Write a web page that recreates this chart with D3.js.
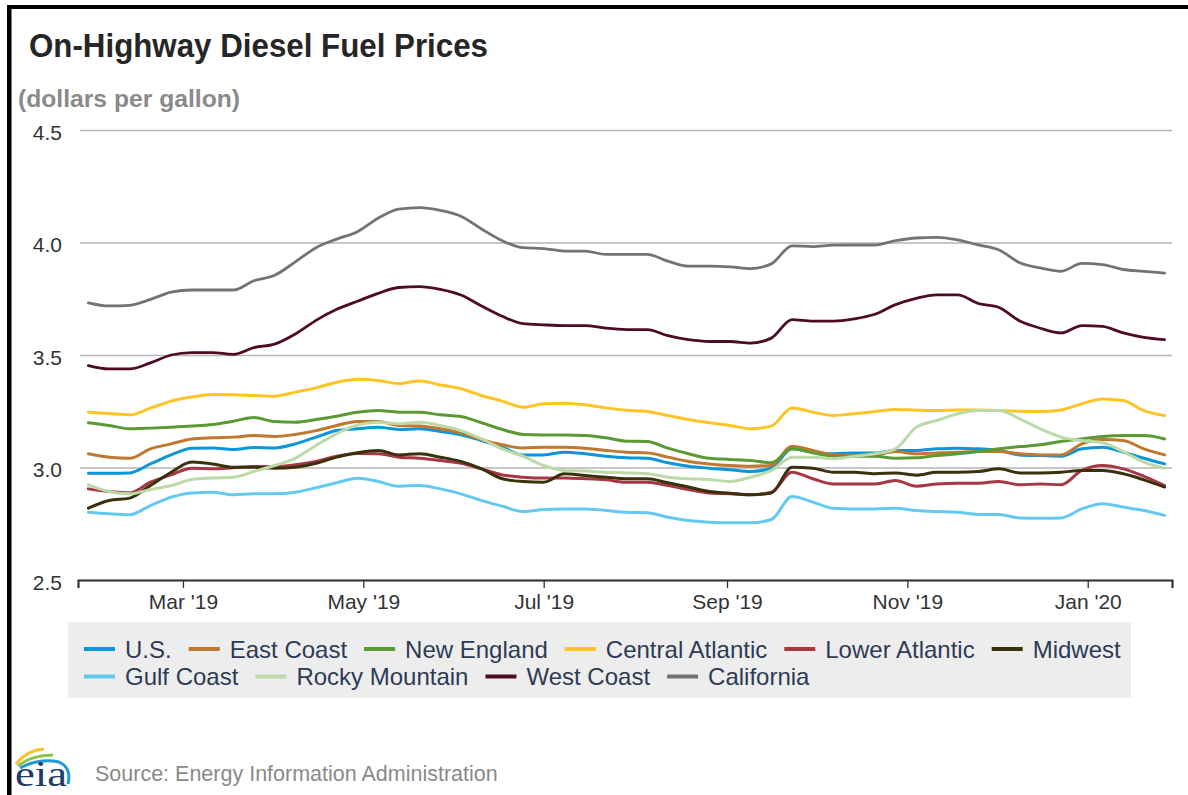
<!DOCTYPE html>
<html>
<head>
<meta charset="utf-8">
<script src="https://cdnjs.cloudflare.com/ajax/libs/d3/7.8.5/d3.min.js"></script>
<style>
  body { margin: 0; background: #fff; }
  svg { display: block; font-family: "Liberation Sans", Arial, sans-serif; }
</style>
</head>
<body>
<div id="chart"></div>
<script>
// weekly dates (Mondays)
var weeks = ["2019-01-28","2019-02-04","2019-02-11","2019-02-18","2019-02-25","2019-03-04","2019-03-11","2019-03-18","2019-03-25",
  "2019-04-01","2019-04-08","2019-04-15","2019-04-22","2019-04-29","2019-05-06","2019-05-13","2019-05-20","2019-05-27",
  "2019-06-03","2019-06-10","2019-06-17","2019-06-24","2019-07-01","2019-07-08","2019-07-15","2019-07-22","2019-07-29",
  "2019-08-05","2019-08-12","2019-08-19","2019-08-26","2019-09-02","2019-09-09","2019-09-16","2019-09-23","2019-09-30",
  "2019-10-07","2019-10-14","2019-10-21","2019-10-28","2019-11-04","2019-11-11","2019-11-18","2019-11-25","2019-12-02",
  "2019-12-09","2019-12-16","2019-12-23","2019-12-30","2020-01-06","2020-01-13","2020-01-20","2020-01-27"];

var usPrice = [2.975,2.975,2.976,3.016,3.056,3.086,3.087,3.080,3.089,3.087,3.105,3.135,3.164,3.172,3.179,3.169,3.172,3.160,
  3.145,3.120,3.090,3.056,3.056,3.068,3.061,3.050,3.043,3.041,3.021,3.006,2.997,2.990,2.982,2.997,3.083,3.068,
  3.061,3.065,3.065,3.076,3.076,3.083,3.086,3.083,3.076,3.056,3.053,3.050,3.083,3.090,3.068,3.041,3.016];
var eastCoast = [3.061,3.046,3.041,3.083,3.105,3.127,3.132,3.135,3.142,3.138,3.147,3.164,3.187,3.205,3.204,3.187,3.184,3.172,
  3.154,3.124,3.101,3.087,3.090,3.090,3.086,3.076,3.068,3.065,3.046,3.027,3.016,3.009,3.006,3.009,3.095,3.076,
  3.056,3.053,3.056,3.071,3.061,3.065,3.068,3.071,3.071,3.061,3.056,3.056,3.105,3.124,3.120,3.083,3.056];
var newEngland = [3.199,3.187,3.172,3.175,3.179,3.184,3.191,3.206,3.222,3.204,3.201,3.213,3.228,3.246,3.253,3.246,3.246,3.234,
  3.227,3.199,3.169,3.147,3.145,3.145,3.142,3.132,3.117,3.116,3.086,3.061,3.041,3.036,3.031,3.021,3.083,3.065,
  3.050,3.050,3.050,3.041,3.043,3.053,3.061,3.071,3.083,3.093,3.101,3.116,3.127,3.138,3.142,3.142,3.127];
var centralAtlantic = [3.246,3.240,3.234,3.264,3.295,3.313,3.324,3.323,3.320,3.317,3.335,3.354,3.379,3.392,3.387,3.373,3.384,3.367,
  3.350,3.320,3.295,3.268,3.283,3.286,3.279,3.265,3.254,3.249,3.231,3.213,3.199,3.187,3.172,3.184,3.264,3.246,
  3.231,3.239,3.249,3.258,3.255,3.253,3.256,3.256,3.253,3.250,3.249,3.256,3.283,3.305,3.298,3.253,3.231];
var lowerAtlantic = [2.905,2.893,2.887,2.935,2.967,2.997,2.994,2.999,3.004,3.004,3.012,3.027,3.050,3.062,3.061,3.046,3.041,3.031,
  3.019,2.994,2.967,2.957,2.953,2.953,2.950,2.945,2.935,2.935,2.920,2.902,2.887,2.883,2.879,2.890,2.979,2.950,
  2.927,2.927,2.927,2.942,2.917,2.927,2.930,2.930,2.938,2.923,2.927,2.923,2.987,3.009,2.994,2.961,2.920];
var midwest = [2.819,2.853,2.864,2.920,2.979,3.024,3.016,3.001,3.001,2.997,3.001,3.019,3.046,3.066,3.076,3.056,3.061,3.046,
  3.027,2.994,2.950,2.938,2.935,2.972,2.964,2.957,2.950,2.950,2.932,2.913,2.893,2.886,2.879,2.887,3.001,2.997,
  2.979,2.979,2.972,2.976,2.966,2.979,2.979,2.982,2.994,2.976,2.976,2.979,2.987,2.987,2.972,2.945,2.913];
var gulfCoast = [2.801,2.794,2.790,2.831,2.868,2.887,2.890,2.879,2.883,2.883,2.890,2.910,2.932,2.952,2.938,2.917,2.920,2.905,
  2.883,2.853,2.828,2.804,2.813,2.816,2.816,2.809,2.801,2.799,2.779,2.764,2.757,2.754,2.754,2.769,2.871,2.846,
  2.819,2.816,2.816,2.819,2.809,2.804,2.801,2.791,2.791,2.776,2.775,2.776,2.816,2.839,2.824,2.809,2.787];
var rockyMountain = [2.923,2.893,2.883,2.902,2.920,2.947,2.953,2.957,2.982,3.009,3.041,3.098,3.150,3.189,3.201,3.194,3.201,3.187,
  3.164,3.127,3.083,3.050,3.009,2.987,2.984,2.979,2.976,2.972,2.957,2.950,2.947,2.938,2.957,2.987,3.046,3.046,
  3.039,3.050,3.061,3.083,3.179,3.209,3.239,3.253,3.253,3.216,3.172,3.135,3.120,3.110,3.071,3.024,2.997];
var westCoast = [3.453,3.438,3.438,3.465,3.500,3.511,3.511,3.503,3.533,3.548,3.593,3.654,3.703,3.739,3.774,3.800,3.804,3.792,
  3.767,3.718,3.672,3.639,3.634,3.631,3.631,3.619,3.613,3.613,3.586,3.568,3.560,3.560,3.553,3.575,3.657,3.651,
  3.651,3.661,3.681,3.724,3.752,3.767,3.767,3.729,3.711,3.651,3.619,3.598,3.631,3.627,3.598,3.578,3.568];
var california = [3.732,3.718,3.721,3.747,3.779,3.789,3.789,3.789,3.830,3.854,3.914,3.977,4.015,4.048,4.108,4.148,4.155,4.143,
  4.117,4.060,4.008,3.977,3.973,3.962,3.962,3.947,3.947,3.947,3.917,3.895,3.895,3.892,3.884,3.905,3.985,3.982,
  3.988,3.989,3.989,4.008,4.020,4.023,4.012,3.989,3.967,3.910,3.887,3.872,3.907,3.902,3.880,3.872,3.864];

var seriesNames = ["U.S.","East Coast","New England","Central Atlantic","Lower Atlantic","Midwest",
  "Gulf Coast","Rocky Mountain","West Coast","California"];
var seriesValues = [usPrice, eastCoast, newEngland, centralAtlantic, lowerAtlantic, midwest,
  gulfCoast, rockyMountain, westCoast, california];
var seriesColors = ["#0a96d8","#c0772f","#5a9a34","#ffc423","#a83745","#3a300c",
  "#64c8f2","#bcd9a8","#4e0d1e","#737373"];

var yTicks = [2.5, 3.0, 3.5, 4.0, 4.5];
var xTickDates = ["2019-03-01","2019-05-01","2019-07-01","2019-09-01","2019-11-01","2020-01-01"];
var xTickLabels = ["Mar '19","May '19","Jul '19","Sep '19","Nov '19","Jan '20"];

var W = 1188, H = 795;
var plot = { left: 78, right: 1172, top: 130, bottom: 580 };

var parse = d3.timeParse("%Y-%m-%d");
var dates = weeks.map(parse);

var svg = d3.select("#chart").append("svg")
  .attr("width", W).attr("height", H);

svg.append("rect").attr("width", W).attr("height", H).attr("fill", "#fff");

// frame (left and top edges of the screenshot)
svg.append("rect").attr("x", 7).attr("y", 5).attr("width", W - 7).attr("height", 4).attr("fill", "#000");
svg.append("rect").attr("x", 7).attr("y", 5).attr("width", 4.5).attr("height", H - 5).attr("fill", "#000");

// title
svg.append("text")
  .attr("x", 29).attr("y", 57)
  .attr("textLength", 459).attr("lengthAdjust", "spacingAndGlyphs")
  .style("font-size", "33px").style("font-weight", "bold").style("fill", "#262626")
  .text("On-Highway Diesel Fuel Prices");

svg.append("text")
  .attr("x", 18).attr("y", 107)
  .attr("textLength", 222).attr("lengthAdjust", "spacingAndGlyphs")
  .style("font-size", "23px").style("font-weight", "bold").style("fill", "#8a8a8a")
  .text("(dollars per gallon)");

// scales
var x = d3.scaleTime()
  .domain([new Date(2019, 0, 24, 12), new Date(2020, 0, 29, 12)])
  .range([plot.left, plot.right]);
var y = d3.scaleLinear().domain([2.5, 4.5]).range([plot.bottom, plot.top]);

// y grid + labels
var yAxis = svg.append("g")
  .attr("transform", "translate(" + plot.left + ",0)")
  .call(d3.axisLeft(y).tickValues(yTicks).tickSize(-(plot.right - plot.left)).tickPadding(16)
    .tickFormat(d3.format(".1f")));
yAxis.select(".domain").remove();
yAxis.selectAll(".tick line").attr("stroke", "#b5b5b5").attr("stroke-width", 1.5).attr("x1", 2);
yAxis.selectAll(".tick text").attr("dy", "0.45em").style("font-size", "21px").style("fill", "#333")
  .style("font-family", "'Liberation Sans', Arial, sans-serif");

// x axis
var xAxis = svg.append("g")
  .attr("transform", "translate(0," + plot.bottom + ")")
  .call(d3.axisBottom(x).tickValues(xTickDates.map(parse)).tickSize(8).tickPadding(6)
    .tickFormat(function (d, i) { return xTickLabels[i]; }));
xAxis.select(".domain").attr("stroke", "#333").attr("stroke-width", 2.2);
xAxis.selectAll(".tick line").attr("stroke", "#333").attr("stroke-width", 1.3);
xAxis.selectAll(".tick text").style("font-size", "21px").style("fill", "#333")
  .style("font-family", "'Liberation Sans', Arial, sans-serif");

// lines
var line = d3.line()
  .x(function (d, i) { return x(dates[i]); })
  .y(function (d) { return y(d); })
  .curve(d3.curveMonotoneX);

svg.append("g").selectAll("path")
  .data(seriesValues)
  .enter()
  .append("path")
  .attr("d", line)
  .attr("fill", "none")
  .attr("stroke", function (d, i) { return seriesColors[i]; })
  .attr("stroke-width", function (d, i) { return i >= 8 ? 2.8 : 3; })
  .attr("stroke-linejoin", "round")
  .attr("stroke-linecap", "round");

// legend
var legend = svg.append("g");
legend.append("rect")
  .attr("x", 68).attr("y", 622).attr("width", 1063).attr("height", 76)
  .attr("fill", "#ededed");

var rows = [[0, 1, 2, 3, 4, 5], [6, 7, 8, 9]];
var rowY = [649, 676.5];
rows.forEach(function (row, r) {
  var cx = 84;
  row.forEach(function (k) {
    legend.append("line")
      .attr("x1", cx).attr("x2", cx + 31)
      .attr("y1", rowY[r]).attr("y2", rowY[r])
      .attr("stroke", seriesColors[k]).attr("stroke-width", 4);
    var t = legend.append("text")
      .attr("x", cx + 41).attr("y", rowY[r] + 8.5)
      .style("font-size", "24px").style("fill", "#2d3b55")
      .text(seriesNames[k]);
    cx = cx + 41 + t.node().getComputedTextLength() + 17;
  });
});

// footer: eia logo + source
var logo = svg.append("g");
logo.append("path").attr("d", "M16,764 Q27,750 44,749").attr("fill", "none")
  .attr("stroke", "#f4c431").attr("stroke-width", 3);
logo.append("path").attr("d", "M18,766 Q31,755 53,755").attr("fill", "none")
  .attr("stroke", "#8bc34a").attr("stroke-width", 3);
logo.append("path").attr("d", "M20,768 Q39,758 59,762 Q72,768 68,784").attr("fill", "none")
  .attr("stroke", "#1e9ad6").attr("stroke-width", 3);
logo.append("text")
  .attr("x", 15).attr("y", 786)
  .attr("textLength", 52).attr("lengthAdjust", "spacingAndGlyphs")
  .style("font-family", "'Liberation Serif', 'DejaVu Serif', serif")
  .style("font-size", "36px").style("fill", "#1d3b6a")
  .text("eia");

svg.append("text")
  .attr("x", 95).attr("y", 781)
  .style("font-size", "21.5px").style("fill", "#8a8a8a")
  .text("Source: Energy Information Administration");
</script>
</body>
</html>
